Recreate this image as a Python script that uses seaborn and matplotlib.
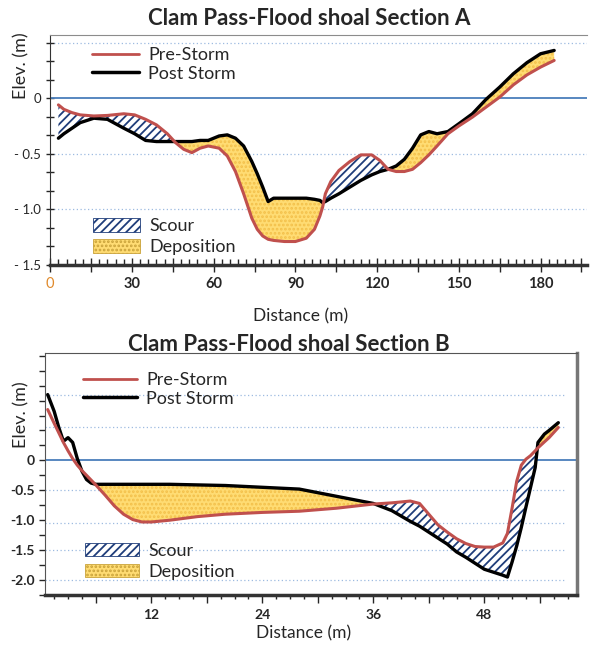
import numpy as np
import pandas as pd
import seaborn as sns
import matplotlib.pyplot as plt
from matplotlib.lines import Line2D
from matplotlib.patches import Patch
from matplotlib.ticker import MultipleLocator

# Section A profile: distance (m), pre-storm and post-storm elevation (m)
dist_a = [3, 5, 8, 11, 16, 21, 27, 31, 35, 39, 43, 46, 49, 52, 55, 58, 62, 65, 68, 71,
          74, 76, 78, 80, 82, 86, 90, 94, 97, 99, 100, 101, 103, 106, 110, 114, 118, 121,
          124, 127, 130, 133, 136, 139, 142, 146, 150, 155, 160, 165, 170, 175, 180, 185]
pre_a = [-0.06, -0.10, -0.13, -0.15, -0.16, -0.155, -0.14, -0.15, -0.19, -0.24, -0.32,
         -0.40, -0.46, -0.49, -0.45, -0.43, -0.45, -0.52, -0.66, -0.86, -1.08, -1.18,
         -1.24, -1.27, -1.28, -1.29, -1.29, -1.26, -1.18, -1.06, -0.98, -0.86, -0.75,
         -0.65, -0.57, -0.51, -0.51, -0.56, -0.64, -0.66, -0.66, -0.64, -0.58, -0.51,
         -0.43, -0.32, -0.25, -0.17, -0.08, 0.01, 0.12, 0.21, 0.28, 0.34]
post_a = [-0.36, -0.32, -0.27, -0.22, -0.18, -0.19, -0.27, -0.32, -0.38, -0.39, -0.39,
          -0.39, -0.39, -0.39, -0.38, -0.38, -0.34, -0.33, -0.36, -0.43, -0.57, -0.68,
          -0.80, -0.93, -0.90, -0.90, -0.90, -0.90, -0.91, -0.92, -0.94, -0.93, -0.90,
          -0.86, -0.80, -0.74, -0.69, -0.66, -0.64, -0.61, -0.55, -0.45, -0.33, -0.30,
          -0.32, -0.30, -0.23, -0.14, -0.01, 0.10, 0.22, 0.32, 0.40, 0.43]

# Section B profile
dist_b = [0.8, 1.5, 2.0, 2.5, 3.0, 3.5, 4.0, 4.5, 5.0, 5.5, 6, 7, 8, 9, 10, 11, 12, 14,
          17, 20, 24, 28, 32, 36, 38, 40, 41, 42, 43, 44, 45, 46, 47, 48, 49, 50, 50.5,
          51, 51.5, 52, 52.5, 53, 53.5, 53.8, 54.5, 55, 56]
pre_b = [0.85, 0.62, 0.46, 0.30, 0.16, 0.03, -0.08, -0.17, -0.25, -0.33, -0.41, -0.58,
         -0.76, -0.90, -0.99, -1.03, -1.03, -1.00, -0.94, -0.90, -0.87, -0.85, -0.80,
         -0.73, -0.71, -0.68, -0.72, -0.90, -1.08, -1.20, -1.31, -1.39, -1.44, -1.45,
         -1.45, -1.38, -1.22, -0.80, -0.35, -0.08, 0.02, 0.08, 0.16, 0.21, 0.31, 0.38, 0.55]
post_b = [1.10, 0.82, 0.55, 0.32, 0.38, 0.30, 0.03, -0.18, -0.32, -0.38, -0.40, -0.40,
          -0.40, -0.40, -0.40, -0.40, -0.40, -0.40, -0.41, -0.42, -0.45, -0.48, -0.60,
          -0.72, -0.84, -1.02, -1.10, -1.20, -1.30, -1.40, -1.53, -1.62, -1.72, -1.82,
          -1.87, -1.92, -1.95, -1.70, -1.43, -1.12, -0.78, -0.45, -0.12, 0.30, 0.44,
          0.50, 0.63]

RED = "#c0504d"
BLUE = "#4a7ebb"
HATCH_BLUE = "#1f3d7a"
YELLOW = "#ffdc73"
GRID = "#9dbbe0"

sns.set_style("white")
plt.rcParams["font.family"] = ["Lato", "DejaVu Sans"]
plt.rcParams["hatch.linewidth"] = 1.3

fig = plt.figure(figsize=(5.91, 6.46), dpi=100)
ax_a = fig.add_axes([0.085, 0.59, 0.908, 0.356])
ax_b = fig.add_axes([0.076, 0.079, 0.900, 0.375])


def draw_profile(ax, dist, pre, post, scour_min, dep_min):
    x = np.array(dist)
    y_pre = np.array(pre)
    y_post = np.array(post)
    ax.fill_between(x, y_pre, y_post, where=(y_pre >= y_post) & (x >= scour_min),
                    interpolate=True, facecolor="white", edgecolor=HATCH_BLUE,
                    hatch="////", linewidth=0, zorder=2)
    ax.fill_between(x, y_pre, y_post, where=(y_post >= y_pre) & (x >= dep_min),
                    interpolate=True, facecolor=YELLOW, edgecolor="#f3c04a",
                    hatch="....", linewidth=0, zorder=2)
    df = pd.DataFrame({"Distance": dist, "Pre-Storm": pre, "Post Storm": post})
    sns.lineplot(data=df, x="Distance", y="Pre-Storm", color=RED, lw=2.2, ax=ax, zorder=4)
    sns.lineplot(data=df, x="Distance", y="Post Storm", color="black", lw=2.4, ax=ax, zorder=3)
    ax.axhline(0, color=BLUE, lw=1.3, zorder=1)
    ax.set_xlabel("")
    ax.set_ylabel("")


# ---- Section A ----
draw_profile(ax_a, dist_a, pre_a, post_a, 0, 0)
ax_a.set_xlim(0, 197)
ax_a.set_ylim(-1.45, 0.57)
for lvl in [0.5, -0.5, -1.0]:
    ax_a.axhline(lvl, color=GRID, lw=0.9, ls=(0, (1, 2)), zorder=0)
ax_a.set_xticks([0, 15, 30, 45, 60, 75, 90, 105, 120, 135, 150, 165, 180, 195])
ax_a.set_xticklabels(["0", "", "30", "", "60", "", "90", "", "120", "", "150", "", "180", ""],
                     fontweight="bold", fontsize=10.5)
ax_a.get_xticklabels()[0].set_color("#e08a2c")
ax_a.get_xticklabels()[0].set_fontweight("normal")
ax_a.xaxis.set_minor_locator(MultipleLocator(3))
ax_a.set_yticks([0, -0.5, -1.0, -1.5])
ax_a.set_yticklabels(["0", "- 0.5", "- 1.0", "- 1.5"], fontsize=9.5)
ax_a.yaxis.set_minor_locator(MultipleLocator(0.5 / 3))
ax_a.tick_params(axis="x", which="major", direction="inout", length=10, width=1, bottom=True, pad=4)
ax_a.tick_params(axis="x", which="minor", direction="in", length=4, width=1, bottom=True)
ax_a.tick_params(axis="y", which="both", direction="inout", length=6, width=1, left=True)
ax_a.spines["right"].set_visible(False)
ax_a.spines["top"].set_color("#8c8c8c")
ax_a.spines["left"].set_color("#333333")
ax_a.spines["bottom"].set_linewidth(2.5)
ax_a.spines["bottom"].set_color("#333333")

# ---- Section B ----
draw_profile(ax_b, dist_b, pre_b, post_b, 30, 5.8)
ax_b.set_xlim(0.5, 58)
ax_b.set_ylim(-2.25, 1.8)
for lvl in [1.1, 0.55, -0.5, -1.05, -1.5, -2.0]:
    ax_b.axhline(lvl, color=GRID, lw=0.9, ls=(0, (1, 2)), zorder=0, xmax=0.98)
ax_b.set_xticks([6, 12, 18, 24, 30, 36, 42, 48, 54])
ax_b.set_xticklabels(["", "12", "", "24", "", "36", "", "48", ""], fontweight="bold", fontsize=10)
ax_b.xaxis.set_minor_locator(MultipleLocator(1.5))
ax_b.set_yticks([0, -0.5, -1.0, -1.5, -2.0])
ax_b.set_yticklabels(["0", "-0.5", "-1.0", "-1.5", "-2.0"], fontweight="bold", fontsize=10)
ax_b.yaxis.set_minor_locator(MultipleLocator(0.25))
ax_b.tick_params(axis="x", which="major", direction="out", length=6, width=1, bottom=True, pad=4)
ax_b.tick_params(axis="x", which="minor", direction="out", length=3, width=1, bottom=True)
ax_b.tick_params(axis="y", which="both", direction="out", length=4, width=1, left=True)
for side in ["top", "left"]:
    ax_b.spines[side].set_color("#555555")
ax_b.spines["right"].set_color("#777777")
ax_b.spines["right"].set_linewidth(2.5)
ax_b.spines["bottom"].set_linewidth(2.5)
ax_b.spines["bottom"].set_color("#333333")

# ---- titles and labels ----
fig.text(0.523, 0.972, "Clam Pass-Flood shoal Section A", ha="center", va="center",
         fontsize=16, fontweight="bold")
fig.text(0.488, 0.466, "Clam Pass-Flood shoal Section B", ha="center", va="center",
         fontsize=16, fontweight="bold")
fig.text(0.508, 0.510, "Distance (m)", ha="center", va="center", fontsize=12.5)
fig.text(0.514, 0.020, "Distance (m)", ha="center", va="center", fontsize=12.5)
fig.text(0.037, 0.899, "Elev. (m)", ha="center", va="center", rotation=90, fontsize=13)
fig.text(0.037, 0.358, "Elev. (m)", ha="center", va="center", rotation=90, fontsize=13)

# ---- legends ----
line_handles = [Line2D([], [], color=RED, lw=2), Line2D([], [], color="black", lw=2.5)]
patch_handles = [Patch(facecolor="white", edgecolor=HATCH_BLUE, hatch="////", lw=0.6),
                 Patch(facecolor=YELLOW, edgecolor="#c9a23a", hatch="....", lw=0.6)]
leg_kw = dict(frameon=False, fontsize=13, borderpad=0, borderaxespad=0, loc="upper left")

fig.legend(line_handles, ["Pre-Storm", "Post Storm"], bbox_to_anchor=(92 / 591, 1 - 47 / 646),
           handlelength=2.6, labelspacing=0.15, handletextpad=0.5, **leg_kw)
fig.legend(patch_handles, ["Scour", "Deposition"], bbox_to_anchor=(93 / 591, 1 - 218 / 646),
           handlelength=2.6, handleheight=0.8, labelspacing=0.25, handletextpad=0.5, **leg_kw)
fig.legend(line_handles, ["Pre-Storm", "Post Storm"], bbox_to_anchor=(83 / 591, 1 - 372 / 646),
           handlelength=3.0, labelspacing=0.15, handletextpad=0.5, **leg_kw)
fig.legend(patch_handles, ["Scour", "Deposition"], bbox_to_anchor=(85 / 591, 1 - 543 / 646),
           handlelength=3.0, handleheight=0.7, labelspacing=0.25, handletextpad=0.5, **leg_kw)

fig.savefig("out.png", dpi=100)
